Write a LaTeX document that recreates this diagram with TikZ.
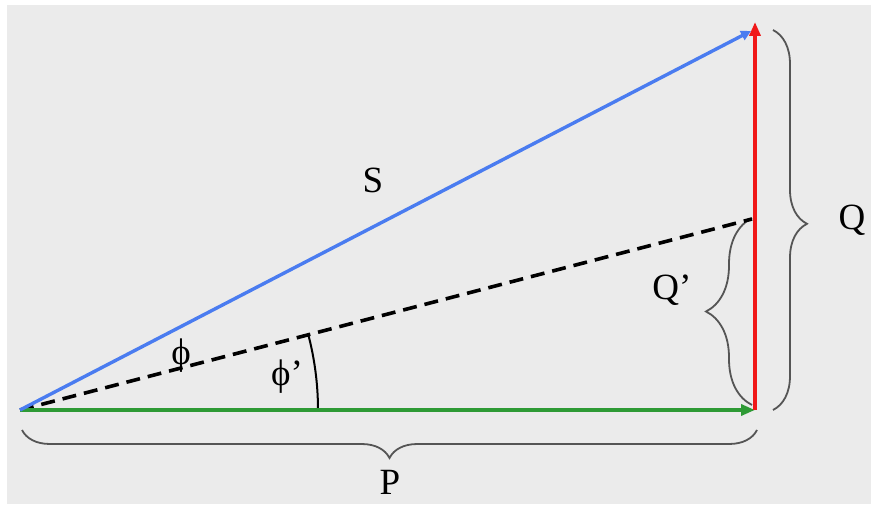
\documentclass[tikz,border=0pt]{standalone}
\usepackage{fontspec}
\setmainfont{Liberation Serif}
\usetikzlibrary{arrows.meta,decorations.pathreplacing}
\definecolor{bg}{HTML}{EBEBEB}
\definecolor{vblue}{HTML}{4A7CF0}
\definecolor{vred}{HTML}{F01818}
\definecolor{vgreen}{HTML}{2E9A35}
\definecolor{brc}{HTML}{555555}
\tikzset{
  vec/.style={line width=3.4pt,-{Triangle[length=14pt,width=11pt]}},
  brc/.style={draw=brc,line width=1.8pt,decorate},
  lbl/.style={font=\fontsize{37}{40}\selectfont,inner sep=0pt}
}
\begin{document}
\begin{tikzpicture}[x=1pt,y=1pt]
\useasboundingbox (0,0) rectangle (871,504);
\fill[white] (0,0) rectangle (871,504);
\fill[bg] (7,0) rectangle (871,499);
\coordinate (O) at (20,94);
\coordinate (P) at (755,94);
\coordinate (Rt) at (755,482);
\coordinate (S) at (751,473);
\coordinate (D) at (752,285);
% braces
\coordinate (qa) at (752,99);
\coordinate (qb) at (752,286);
\draw[brc,decoration={brace,amplitude=46pt,aspect=0.5}] (qa) -- (qb);
\coordinate (Qa) at (773,474);
\coordinate (Qb) at (773,94);
\draw[brc,decoration={brace,amplitude=34pt,aspect=0.51}] (Qa) -- (Qb);
\coordinate (pa) at (757,74);
\coordinate (pb) at (22,74);
\draw[brc,decoration={brace,amplitude=28pt,aspect=0.5}] (pa) -- (pb);
% arc
\draw[line width=2pt] (O) ++(298,0) arc[start angle=0,end angle=14.62,radius=298];
% vectors
\draw[black,line width=3.6pt,dash pattern=on 14pt off 8pt] (O) -- (D);
\draw[vec,vgreen] (O) -- (P);
\draw[vec,vblue,-{Triangle[length=10pt,width=10pt]}] (O) -- (S);
\draw[vec,vred] (P) -- (Rt);
% labels
\node[lbl] (lS) at (373,324) {S};
\node[lbl] (lphi) at (181,148) {ϕ};
\node[lbl] (lphip) at (287,127) {ϕ'};
\node[lbl] (lQp) at (672,214) {Q'};
\node[lbl] (lQ) at (852,284) {Q};
\node[lbl] (lP) at (390,22) {P};
\end{tikzpicture}
\end{document}
